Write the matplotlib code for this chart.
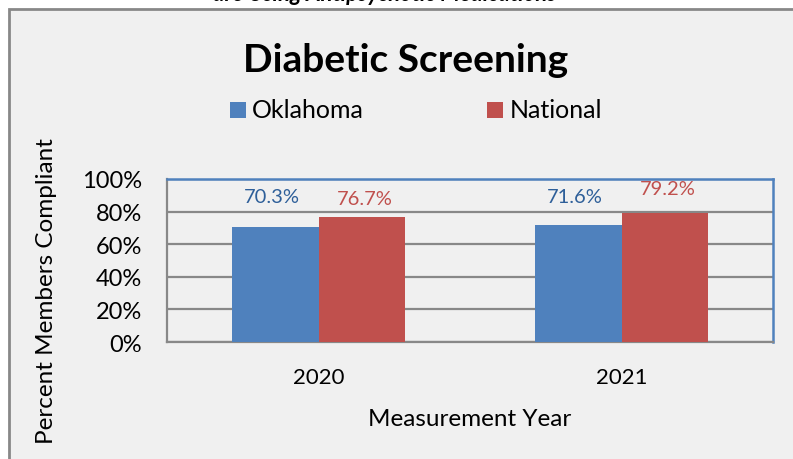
import matplotlib
matplotlib.use("Agg")
import matplotlib.pyplot as plt
from matplotlib.patches import Rectangle
import numpy as np

plt.rcParams['font.family'] = ['Lato', 'DejaVu Sans']

years = ["2020", "2021"]
oklahoma = [70.3, 71.6]
national = [76.7, 79.2]
series_names = ["Oklahoma", "National"]
yticks = [0, 20, 40, 60, 80, 100]

BLUE = "#4f81bd"
RED = "#c0504d"
BG = "#f0f0f0"

W, H = 793, 460
fig = plt.figure(figsize=(W / 100, H / 100), dpi=100)
fig.patch.set_facecolor("white")

# chart area background with grey frame (runs off the right/bottom edges)
fig.patches.append(Rectangle((9 / W, -0.05), 1.1, 1 - 10 / H + 0.05,
                             transform=fig.transFigure, facecolor=BG,
                             edgecolor="#888888", linewidth=2, zorder=-5))

# heading of the surrounding page, mostly cut off at the top
fig.text(385 / W, 1 - 1 / H, "are Using Antipsychotic Medications",
         ha="center", va="baseline", fontsize=16, fontweight="bold",
         style="italic", color="black")

ax = fig.add_axes([167 / W, 1 - 343 / H, 606 / W, 163 / H])
ax.set_facecolor(BG)

x = np.arange(len(years))
bw = 0.287
ax.bar(x - bw / 2, oklahoma, bw, color=BLUE, zorder=3, label=series_names[0])
ax.bar(x + bw / 2, national, bw, color=RED, zorder=3, label=series_names[1])

label_y_ok = [89.0, 89.0]
label_y_nat = [88.3, 93.9]
for i in range(len(years)):
    ax.text(x[i] - bw / 2 - 0.01, label_y_ok[i], f"{oklahoma[i]:.1f}%",
            ha="center", va="center", fontsize=14.5, color="#2e5f99", zorder=4)
    ax.text(x[i] + bw / 2 + 0.01, label_y_nat[i], f"{national[i]:.1f}%",
            ha="center", va="center", fontsize=14.5, color=RED, zorder=4)

ax.set_xlim(-0.5, 1.5)
ax.set_ylim(0, 100)
ax.set_yticks(yticks)
ax.set_yticklabels([f"{t}%" for t in yticks], fontsize=17)
ax.set_xticks(x)
ax.set_xticklabels(years, fontsize=16)
ax.tick_params(axis="y", length=0, pad=18)
ax.tick_params(axis="x", length=0, pad=18)
ax.yaxis.grid(True, color="#888888", linewidth=1.6, zorder=1)
ax.set_axisbelow(True)

for side in ["top", "right"]:
    ax.spines[side].set_color("#4f81bd")
    ax.spines[side].set_linewidth(1.8)
for side in ["left", "bottom"]:
    ax.spines[side].set_color("#888888")
    ax.spines[side].set_linewidth(1.6)

ax.set_xlabel("Measurement Year", fontsize=17.5, labelpad=15)
fig.text(47 / W, 1 - 291 / H, "Percent Members Compliant", rotation=90,
         ha="center", va="center", fontsize=17.5)

fig.text(406 / W, 1 - 60 / H, "Diabetic Screening", ha="center", va="center",
         fontsize=28, fontweight="bold")

# legend: coloured squares with series names
for name, color, sx, tx in [(series_names[0], BLUE, 230, 252),
                            (series_names[1], RED, 487, 510)]:
    fig.patches.append(Rectangle((sx / W, 1 - 119 / H), 16 / W, 16 / H,
                                 transform=fig.transFigure, facecolor=color,
                                 edgecolor="none"))
    fig.text(tx / W, 1 - 111 / H, name, ha="left", va="center", fontsize=18)

fig.savefig("out.png", dpi=100, facecolor="white")
